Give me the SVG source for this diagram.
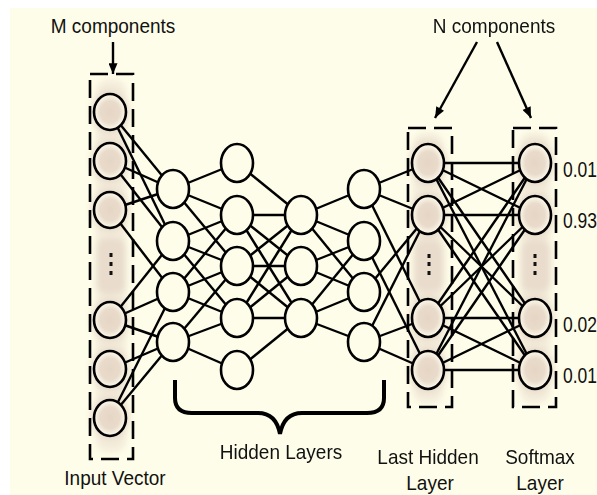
<svg xmlns="http://www.w3.org/2000/svg" width="597" height="495" viewBox="0 0 597 495">
<style>
.lbl{font-family:"Liberation Sans",Arial,sans-serif;font-size:19px;fill:#111;}
.e line{stroke:#000;stroke-width:2.4;}
.n{fill:#FEFDE9;stroke:#000;stroke-width:2.6;}
.b{fill:url(#beige);stroke:#000;stroke-width:2.6;}
.box{fill:none;stroke:#000;stroke-width:2.6;stroke-dasharray:18 8;}
.glow{fill:#E9DCCC;}
.dot{fill:#111;}
.arr{stroke:#000;stroke-width:2.4;fill:none;}
</style>
<defs>
<radialGradient id="beige" cx="0.5" cy="0.5" r="0.5">
<stop offset="0" stop-color="#E5D5C4"/>
<stop offset="0.6" stop-color="#E9DBCB"/>
<stop offset="0.92" stop-color="#FAF5E6"/>
</radialGradient>
<filter id="blur" x="-0.5" y="-0.1" width="2" height="1.2"><feGaussianBlur stdDeviation="3"/></filter>
<marker id="ah" viewBox="0 0 12 10" refX="12" refY="5" markerWidth="12" markerHeight="9" markerUnits="userSpaceOnUse" orient="auto"><path d="M0,0 L12,5 L0,10 z" fill="#000"/></marker>
</defs>
<rect x="0" y="0" width="597" height="495" fill="#FFFFFF"/>
<rect x="10" y="8" width="587" height="487" fill="#FEFDE9"/>

<g id="glows" filter="url(#blur)" class="glow">
<rect x="96" y="80" width="30" height="372" rx="12" opacity="0.5"/>
<ellipse cx="110" cy="112" rx="19" ry="22"/><ellipse cx="110" cy="161" rx="19" ry="22"/><ellipse cx="110" cy="210" rx="19" ry="22"/>
<rect x="96" y="238" width="30" height="56" rx="10"/>
<ellipse cx="110" cy="320" rx="19" ry="22"/><ellipse cx="110" cy="369" rx="19" ry="22"/><ellipse cx="110" cy="418" rx="19" ry="22"/>
<rect x="413" y="133" width="30" height="270" rx="12" opacity="0.5"/>
<ellipse cx="428" cy="163" rx="19" ry="23"/><ellipse cx="428" cy="215" rx="19" ry="23"/>
<rect x="414" y="240" width="30" height="52" rx="10"/>
<ellipse cx="428" cy="318" rx="19" ry="23"/><ellipse cx="428" cy="370" rx="19" ry="23"/>
<rect x="520" y="133" width="30" height="270" rx="12" opacity="0.5"/>
<ellipse cx="535" cy="163" rx="19" ry="23"/><ellipse cx="535" cy="215" rx="19" ry="23"/>
<rect x="521" y="240" width="30" height="52" rx="10"/>
<ellipse cx="535" cy="318" rx="19" ry="23"/><ellipse cx="535" cy="370" rx="19" ry="23"/>
</g>

<g id="boxes">
<rect class="box" x="90" y="74" width="43" height="385"/>
<rect class="box" x="408" y="128" width="44" height="279"/>
<rect class="box" x="513" y="128" width="43" height="279"/>
</g>

<g id="connectors" class="e">
<line x1="110" y1="112" x2="173" y2="189"/>
<line x1="110" y1="112" x2="173" y2="241"/>
<line x1="110" y1="161" x2="173" y2="189"/>
<line x1="110" y1="161" x2="173" y2="241"/>
<line x1="110" y1="210" x2="173" y2="189"/>
<line x1="110" y1="210" x2="173" y2="292"/>
<line x1="110" y1="320" x2="173" y2="241"/>
<line x1="110" y1="320" x2="173" y2="292"/>
<line x1="110" y1="320" x2="173" y2="342"/>
<line x1="110" y1="369" x2="173" y2="342"/>
<line x1="110" y1="418" x2="173" y2="292"/>
<line x1="110" y1="418" x2="173" y2="342"/>
<line x1="173" y1="189" x2="237" y2="163"/>
<line x1="173" y1="189" x2="237" y2="215"/>
<line x1="173" y1="189" x2="237" y2="266"/>
<line x1="173" y1="241" x2="237" y2="215"/>
<line x1="173" y1="241" x2="237" y2="266"/>
<line x1="173" y1="241" x2="237" y2="318"/>
<line x1="173" y1="292" x2="237" y2="215"/>
<line x1="173" y1="292" x2="237" y2="266"/>
<line x1="173" y1="292" x2="237" y2="318"/>
<line x1="173" y1="342" x2="237" y2="266"/>
<line x1="173" y1="342" x2="237" y2="318"/>
<line x1="173" y1="342" x2="237" y2="370"/>
<line x1="237" y1="163" x2="301" y2="215"/>
<line x1="237" y1="215" x2="301" y2="215"/>
<line x1="237" y1="215" x2="301" y2="266"/>
<line x1="237" y1="215" x2="301" y2="318"/>
<line x1="237" y1="266" x2="301" y2="215"/>
<line x1="237" y1="266" x2="301" y2="266"/>
<line x1="237" y1="266" x2="301" y2="318"/>
<line x1="237" y1="318" x2="301" y2="215"/>
<line x1="237" y1="318" x2="301" y2="266"/>
<line x1="237" y1="318" x2="301" y2="318"/>
<line x1="237" y1="370" x2="301" y2="318"/>
<line x1="301" y1="215" x2="364" y2="189"/>
<line x1="301" y1="215" x2="364" y2="241"/>
<line x1="301" y1="215" x2="364" y2="292"/>
<line x1="301" y1="266" x2="364" y2="241"/>
<line x1="301" y1="266" x2="364" y2="292"/>
<line x1="301" y1="318" x2="364" y2="241"/>
<line x1="301" y1="318" x2="364" y2="292"/>
<line x1="301" y1="318" x2="364" y2="342"/>
<line x1="364" y1="189" x2="428" y2="163"/>
<line x1="364" y1="189" x2="428" y2="215"/>
<line x1="364" y1="189" x2="428" y2="318"/>
<line x1="364" y1="241" x2="428" y2="370"/>
<line x1="364" y1="292" x2="428" y2="215"/>
<line x1="364" y1="342" x2="428" y2="215"/>
<line x1="364" y1="342" x2="428" y2="318"/>
<line x1="364" y1="342" x2="428" y2="370"/>
<line x1="428" y1="163" x2="535" y2="163"/>
<line x1="428" y1="163" x2="535" y2="215"/>
<line x1="428" y1="163" x2="535" y2="318"/>
<line x1="428" y1="163" x2="535" y2="370"/>
<line x1="428" y1="215" x2="535" y2="163"/>
<line x1="428" y1="215" x2="535" y2="215"/>
<line x1="428" y1="215" x2="535" y2="318"/>
<line x1="428" y1="215" x2="535" y2="370"/>
<line x1="428" y1="318" x2="535" y2="163"/>
<line x1="428" y1="318" x2="535" y2="215"/>
<line x1="428" y1="318" x2="535" y2="318"/>
<line x1="428" y1="318" x2="535" y2="370"/>
<line x1="428" y1="370" x2="535" y2="163"/>
<line x1="428" y1="370" x2="535" y2="215"/>
<line x1="428" y1="370" x2="535" y2="318"/>
<line x1="428" y1="370" x2="535" y2="370"/>
<line class="arr" x1="113" y1="42" x2="113" y2="74" marker-end="url(#ah)"/>
<line class="arr" x1="477" y1="42" x2="435" y2="118" marker-end="url(#ah)"/>
<line class="arr" x1="497" y1="42" x2="531" y2="118" marker-end="url(#ah)"/>
</g>

<g id="input-layer">
<ellipse class="b" cx="110" cy="112" rx="16" ry="18"/>
<ellipse class="b" cx="110" cy="161" rx="16" ry="18"/>
<ellipse class="b" cx="110" cy="210" rx="16" ry="18"/>
<rect class="dot" x="109.5" y="253" width="3" height="4"/><rect class="dot" x="109.5" y="262" width="3" height="4"/><rect class="dot" x="109.5" y="271" width="3" height="4"/>
<ellipse class="b" cx="110" cy="320" rx="16" ry="18"/>
<ellipse class="b" cx="110" cy="369" rx="16" ry="18"/>
<ellipse class="b" cx="110" cy="418" rx="16" ry="18"/>
</g>
<g id="hidden-1">
<ellipse class="n" cx="173" cy="189" rx="16" ry="19"/>
<ellipse class="n" cx="173" cy="241" rx="16" ry="19"/>
<ellipse class="n" cx="173" cy="292" rx="16" ry="19"/>
<ellipse class="n" cx="173" cy="342" rx="16" ry="19"/>
</g>
<g id="hidden-2">
<ellipse class="n" cx="237" cy="163" rx="16" ry="19"/>
<ellipse class="n" cx="237" cy="215" rx="16" ry="19"/>
<ellipse class="n" cx="237" cy="266" rx="16" ry="19"/>
<ellipse class="n" cx="237" cy="318" rx="16" ry="19"/>
<ellipse class="n" cx="237" cy="370" rx="16" ry="19"/>
</g>
<g id="hidden-3">
<ellipse class="n" cx="301" cy="215" rx="16" ry="19"/>
<ellipse class="n" cx="301" cy="266" rx="16" ry="19"/>
<ellipse class="n" cx="301" cy="318" rx="16" ry="19"/>
</g>
<g id="hidden-4">
<ellipse class="n" cx="364" cy="189" rx="16" ry="19"/>
<ellipse class="n" cx="364" cy="241" rx="16" ry="19"/>
<ellipse class="n" cx="364" cy="292" rx="16" ry="19"/>
<ellipse class="n" cx="364" cy="342" rx="16" ry="19"/>
</g>
<g id="last-hidden-layer">
<ellipse class="b" cx="428" cy="163" rx="16" ry="19"/>
<ellipse class="b" cx="428" cy="215" rx="16" ry="19"/>
<rect class="dot" x="427.5" y="254" width="3" height="4"/><rect class="dot" x="427.5" y="262" width="3" height="4"/><rect class="dot" x="427.5" y="271" width="3" height="4"/>
<ellipse class="b" cx="428" cy="318" rx="16" ry="19"/>
<ellipse class="b" cx="428" cy="370" rx="16" ry="19"/>
</g>
<g id="softmax-layer">
<ellipse class="b" cx="535" cy="163" rx="16" ry="19"/>
<ellipse class="b" cx="535" cy="215" rx="16" ry="19"/>
<rect class="dot" x="533.5" y="254" width="3" height="4"/><rect class="dot" x="533.5" y="262" width="3" height="4"/><rect class="dot" x="533.5" y="271" width="3" height="4"/>
<ellipse class="b" cx="535" cy="318" rx="16" ry="19"/>
<ellipse class="b" cx="535" cy="370" rx="16" ry="19"/>
</g>

<g id="brace">
<path d="M175,380 L175,398 Q175,413 192,413 L258,413 Q276,413 280,434 Q284,413 302,413 L367,413 Q384,413 384,398 L384,380" fill="none" stroke="#000" stroke-width="4"/>
</g>

<g id="labels">
<text class="lbl" transform="translate(113,33) scale(1,1.08)" text-anchor="middle" font-size="17">M components</text>
<text class="lbl" transform="translate(494,33) scale(1,1.08)" text-anchor="middle" font-size="17">N components</text>
<text class="lbl" transform="translate(563,177) scale(0.92,1.15)" font-size="18">0.01</text>
<text class="lbl" transform="translate(563,228) scale(0.92,1.15)" font-size="18">0.93</text>
<text class="lbl" transform="translate(563,332) scale(0.92,1.15)" font-size="18">0.02</text>
<text class="lbl" transform="translate(563,383) scale(0.92,1.15)" font-size="18">0.01</text>
<text class="lbl" transform="translate(115,485) scale(1,1.1)" text-anchor="middle">Input Vector</text>
<text class="lbl" transform="translate(281,459) scale(1,1.1)" text-anchor="middle">Hidden Layers</text>
<text class="lbl" transform="translate(428,464) scale(1,1.1)" text-anchor="middle">Last Hidden</text>
<text class="lbl" transform="translate(430,490) scale(1,1.1)" text-anchor="middle">Layer</text>
<text class="lbl" transform="translate(540,464) scale(1,1.1)" text-anchor="middle">Softmax</text>
<text class="lbl" transform="translate(540,490) scale(1,1.1)" text-anchor="middle">Layer</text>
</g>
</svg>
